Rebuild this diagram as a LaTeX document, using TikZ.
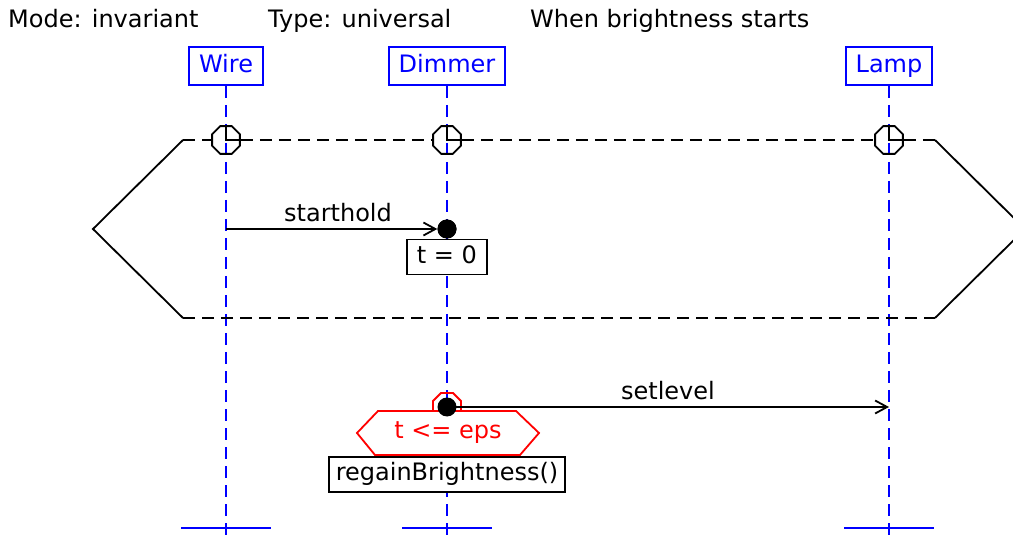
\documentclass[tikz,border=0pt]{standalone}
\usepackage{fontspec}
\setmainfont{DejaVu Sans}
\usetikzlibrary{arrows.meta,shapes.geometric,positioning,calc}
\definecolor{lblue}{RGB}{0,0,255}
\definecolor{gred}{RGB}{255,0,0}

\tikzset{
  head/.style={draw=lblue, text=lblue, fill=white, line width=2pt, inner xsep=10pt,
    minimum height=38pt, text height=18pt, text depth=5pt},
  life/.style={draw=lblue, line width=2pt, dash pattern=on 12pt off 7pt},
  endbar/.style={draw=lblue, line width=2.6pt},
  frame/.style={line width=1.8pt},
  framedash/.style={line width=1.8pt, dash pattern=on 12pt off 7pt},
  clock/.style={draw, regular polygon, regular polygon sides=8, minimum size=30pt,
    inner sep=0pt, line width=1.8pt},
  msg/.style={line width=1.8pt, -{Straight Barb[length=12pt,width=13pt]}},
  dot/.style={circle, fill, inner sep=0pt, minimum size=19pt},
  note/.style={draw, fill=white, line width=1.8pt, minimum height=35pt, inner xsep=7pt,
    text height=18pt, text depth=5pt},
  guardline/.style={draw=gred, line width=1.8pt},
}

\begin{document}
\begin{tikzpicture}[x=1pt, y=-1pt, font=\fontsize{24pt}{28pt}\selectfont]
\path[use as bounding box, clip] (0,0) rectangle (1013,540);

% header line
\node[anchor=base west, inner sep=0pt] (mode) at (8,28) {Mode: invariant};
\node[anchor=base west, inner sep=0pt] (type) at (268,28) {Type: universal};
\node[anchor=base west, inner sep=0pt] (when) at (530,28) {When brightness starts};

% instances with their lifelines
\node[head] (wire) at (226,66) {Wire};
\node[head] (dimmer) at (447,66) {Dimmer};
\node[head] (lamp) at (889,66) {Lamp};
\coordinate (wireEnd) at (wire |- 0,540);
\coordinate (dimmerEnd) at (dimmer |- 0,540);
\coordinate (lampEnd) at (lamp |- 0,540);
\draw[life] (wire.south) -- (wireEnd);
\draw[life] (dimmer.south) -- (dimmerEnd);
\draw[life] (lamp.south) -- (lampEnd);
\draw[endbar] ($(wireEnd)+(-45,-12)$) -- ++(90,0);
\draw[endbar] ($(dimmerEnd)+(-45,-12)$) -- ++(90,0);
\draw[endbar] ($(lampEnd)+(-45,-12)$) -- ++(90,0);

% clocks on the upper bound
\node[clock] (ckW) at (wire |- 0,140) {};
\node[clock] (ckD) at (dimmer |- 0,140) {};
\node[clock] (ckL) at (lamp |- 0,140) {};
\draw[frame] (ckW.north) -- (ckW.center) -- (ckW.east);
\draw[frame] (ckD.north) -- (ckD.center) -- (ckD.east);
\draw[frame] (ckL.north) -- (ckL.center) -- (ckL.east);

% universal chart frame
\coordinate (tl) at (183,140);
\coordinate (tr) at (935,140);
\coordinate (bl) at (183,318);
\coordinate (br) at (935,318);
\draw[frame] (tl) -- (93,229) -- (bl);
\draw[frame] (tr) -- (1025,229) -- (br);
\draw[framedash] (tl) -- (ckW.west) (ckW.east) -- (ckD.west)
  (ckD.east) -- (ckL.west) (ckL.east) -- (tr);
\draw[framedash] (bl) -- (br);

% starthold
\node[dot] (hold) at (dimmer |- 0,229) {};
\draw[msg] (wire |- hold) -- (hold.west) node[pos=0.53, above=3pt] {starthold};
\node[note, anchor=north, minimum width=80pt] (t0) at (hold.south) {t = 0};
\node[dot] at (hold) {};

% setlevel with its guard
\coordinate (lv) at (dimmer |- 0,407);
\draw[guardline, fill=white] (378,411) -- (516,411) -- (539,433) -- (520,455)
  -- (375,455) -- (357,433) -- cycle;
\node[text=gred, inner sep=0pt] (guard) at (448,433) {t <= eps};
\draw[guardline] ($(lv)+(-14,4)$) -- ++(0,-10) -- ++(8,-8) -- ++(12,0) -- ++(8,8) -- ++(0,10);
\draw[msg] (lv) -- (lamp |- lv) node[midway, above=3pt] {setlevel};
\node[dot] (level) at (lv) {};
\node[note, anchor=north] (regain) at (447,456) {regainBrightness()};
\end{tikzpicture}
\end{document}
